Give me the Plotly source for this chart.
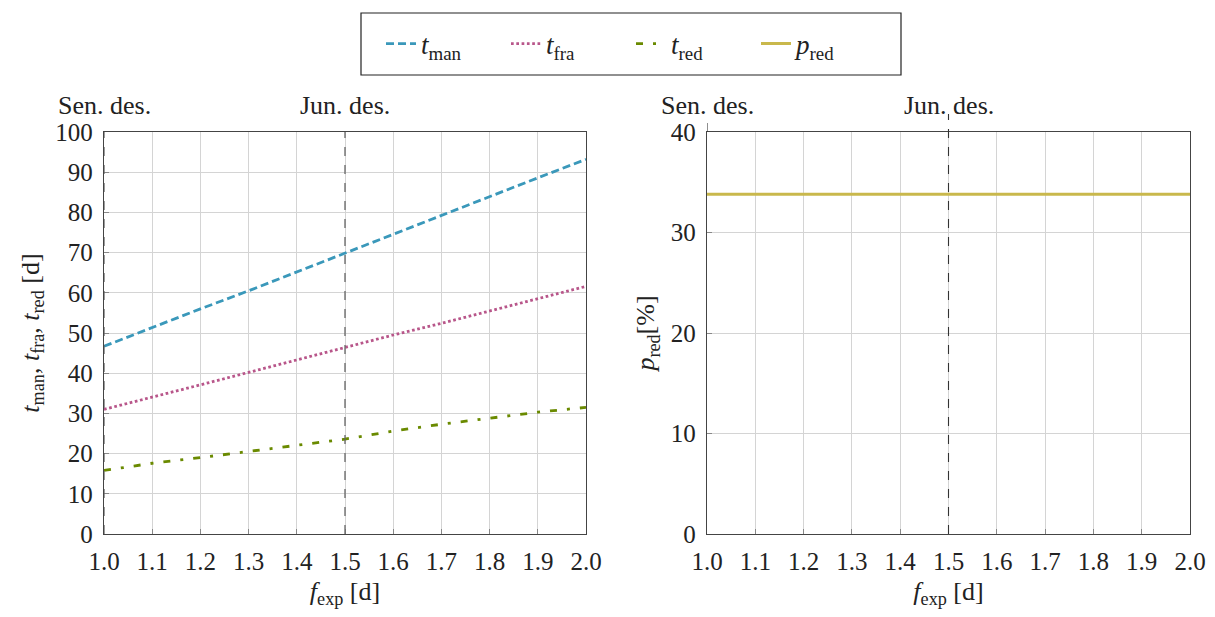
import plotly.graph_objects as go
from plotly.subplots import make_subplots

f_exp = [1.0, 1.1, 1.2, 1.3, 1.4, 1.5, 1.6, 1.7, 1.8, 1.9, 2.0]
t_man = [46.7, 51.4, 56.0, 60.5, 65.2, 70.0, 74.7, 79.3, 84.0, 88.6, 93.2]
t_fra = [31.0, 34.0, 37.1, 40.2, 43.3, 46.3, 49.5, 52.4, 55.5, 58.5, 61.6]
t_red = [15.8, 17.6, 19.0, 20.5, 22.1, 23.6, 25.6, 27.3, 28.8, 30.3, 31.5]
p_red = [33.8] * len(f_exp)

design_x = [1.0, 1.5]
design_labels = ["Sen. des.", "Jun. des."]
x_ticks = [1.0, 1.1, 1.2, 1.3, 1.4, 1.5, 1.6, 1.7, 1.8, 1.9, 2.0]

FONT = "Liberation Serif"
C_MAN = "#3a98ba"
C_FRA = "#b8568a"
C_RED = "#6a8a00"
C_P = "#c9b84c"

# page has an 8px body margin; work in screen pixels
OFF = 8
W, H = 1215 - 2 * OFF, 617 - 2 * OFF


def px(x):
    return (x - OFF) / W


def py(y):
    return 1 - (y - OFF) / H


fig = make_subplots(rows=1, cols=2)

fig.add_trace(go.Scatter(x=f_exp, y=t_man, mode="lines", name="<i>t</i><sub>man</sub>",
                         line=dict(color=C_MAN, width=2.8, dash="8px,4px")), row=1, col=1)
fig.add_trace(go.Scatter(x=f_exp, y=t_fra, mode="lines", name="<i>t</i><sub>fra</sub>",
                         line=dict(color=C_FRA, width=2.8, dash="2.7px,2.6px")), row=1, col=1)
fig.add_trace(go.Scatter(x=f_exp, y=t_red, mode="lines", name="<i>t</i><sub>red</sub>",
                         line=dict(color=C_RED, width=2.8, dash="7px,10px,3px,10px")), row=1, col=1)
fig.add_trace(go.Scatter(x=f_exp, y=p_red, mode="lines", name="<i>p</i><sub>red</sub>",
                         line=dict(color=C_P, width=3)), row=1, col=2)

axis_common = dict(showline=True, linecolor="#444", linewidth=1.3, mirror=True,
                   showgrid=True, gridcolor="#d4d4d4", gridwidth=1,
                   ticks="inside", ticklen=5, tickcolor="#888",
                   tickfont=dict(family=FONT, size=25, color="#222"),
                   zeroline=False, automargin=False, ticklabelstandoff=5)

fig.update_xaxes(**axis_common, range=[1.0, 2.0], tickvals=x_ticks,
                 ticktext=[f"{v:.1f}" for v in x_ticks],
                 title=dict(text="<i>f</i><sub>exp</sub> [d]", font=dict(family=FONT, size=26, color="#222"),
                            standoff=10))
fig.update_yaxes(**axis_common)
fig.update_yaxes(range=[0, 100], dtick=10, row=1, col=1,
                 title=dict(text="<i>t</i><sub>man</sub>, <i>t</i><sub>fra</sub>, <i>t</i><sub>red</sub> [d]",
                            font=dict(family=FONT, size=26, color="#222"), standoff=8))
fig.update_yaxes(range=[0, 40], dtick=10, row=1, col=2,
                 title=dict(text="<i>p</i><sub>red</sub>[%]",
                            font=dict(family=FONT, size=26, color="#222"), standoff=8))

fig.update_layout(
    xaxis=dict(domain=[px(104), px(586)]),
    xaxis2=dict(domain=[px(707), px(1190)]),
    yaxis=dict(domain=[py(534), py(132)]),
    yaxis2=dict(domain=[py(534), py(132)]),
)

shapes = []
annotations = []
for xv, lab in zip(design_x, design_labels):
    shapes.append(dict(type="line", xref="x", yref="y domain", x0=xv, x1=xv, y0=0, y1=1,
                       line=dict(color="#666", width=1.3, dash="dash"), layer="above"))
    shapes.append(dict(type="line", xref="x2", yref="y2 domain", x0=xv, x1=xv,
                       y0=(1 if xv == design_x[0] else 0), y1=1.045,
                       line=dict(color="#333", width=1.1, dash="dash"), layer="above"))
    for xr in ["x", "x2"]:
        annotations.append(dict(text=lab, xref=xr, yref="paper", x=xv, y=py(106),
                                xanchor="center", yanchor="middle", showarrow=False,
                                font=dict(family=FONT, size=26, color="#222")))

# legend frame
shapes.append(dict(type="rect", xref="paper", yref="paper", x0=px(361), x1=px(901), y0=py(75), y1=py(13),
                   line=dict(color="#222", width=1.2), fillcolor="rgba(0,0,0,0)", layer="above"))

fig.update_layout(
    width=W, height=H,
    margin=dict(l=0, r=0, t=0, b=0),
    paper_bgcolor="white", plot_bgcolor="white",
    shapes=shapes, annotations=annotations,
    showlegend=True,
    legend=dict(orientation="h", x=px(631), y=py(44), xanchor="center", yanchor="middle",
                borderwidth=0, bgcolor="rgba(0,0,0,0)",
                font=dict(family=FONT, size=27, color="#222"),
                entrywidth=80, entrywidthmode="pixels", tracegroupgap=0),
)

fig.write_html("out.html")
